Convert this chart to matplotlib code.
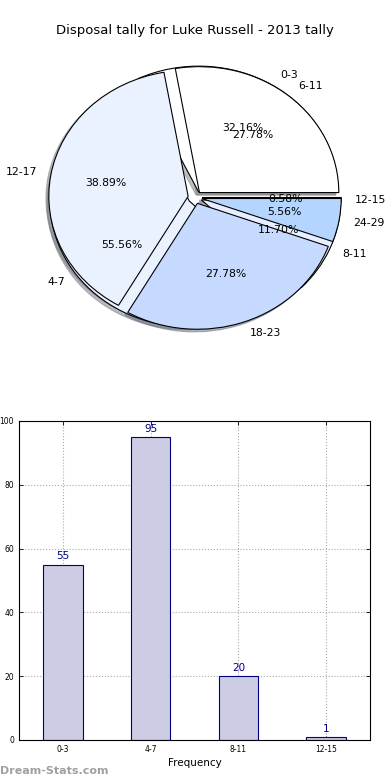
import matplotlib
matplotlib.use('Agg')
import matplotlib.pyplot as plt

# disposal buckets (first pie + bar chart)
disp_labels = ['0-3', '4-7', '8-11', '12-15']
disp_counts = [55, 95, 20, 1]

# second pie drawn over the first one
range_labels = ['6-11', '12-17', '18-23', '24-29']
range_counts = [5, 7, 5, 1]

pie1_colors = ['white', '#eaf1ff', '#e6eeff', '#b4d5ff']
pie2_colors = ['white', '#eaf1ff', '#c6d9ff', '#b4d5ff']

fig = plt.figure(figsize=(3.9, 7.8), dpi=100)

# --- pie ---
ax1 = fig.add_axes([0.032, 0.533, 0.936, 0.423])
wedge_kw = {'edgecolor': 'black', 'linewidth': 0.8}
for vals, labs, cols in [(disp_counts, disp_labels, pie1_colors),
                         (range_counts, range_labels, pie2_colors)]:
    ax1.pie(vals, labels=labs, colors=cols, explode=[0.05] * len(vals),
            autopct='%.2f%%', shadow={'ox': -0.015, 'oy': -0.015, 'shade': 0.5},
            startangle=0, labeldistance=1.1, pctdistance=0.6,
            wedgeprops=wedge_kw, textprops={'fontsize': 7.8})
ax1.set_aspect('auto')
lim = 1.31
ax1.set_xlim(-lim, lim)
ax1.set_ylim(-lim - 0.015, lim - 0.015)
fig.text(0.5, 0.961, 'Disposal tally for Luke Russell - 2013 tally',
         ha='center', va='center', fontsize=9.5)

# --- bars ---
ax2 = fig.add_axes([0.0487, 0.0513, 0.9, 0.409])
x = range(len(disp_labels))
bars = ax2.bar(x, disp_counts, width=0.45, color='#ccccE4',
               edgecolor='#000080', linewidth=0.8, zorder=2)
for b, v in zip(bars, disp_counts):
    ax2.text(b.get_x() + b.get_width() / 2, v + 1, str(v),
             ha='center', va='bottom', fontsize=7.5, color='#000080')
ax2.set_xlim(-0.5, 3.5)
ax2.set_ylim(0, 100)
ax2.set_xticks(list(x))
ax2.set_xticklabels(disp_labels)
ax2.set_yticks([0, 20, 40, 60, 80, 100])
ax2.tick_params(labelsize=5.5, direction='in', top=True, right=True,
                length=3, width=0.6)
ax2.grid(True, linestyle=':', color='#aaaaaa', linewidth=0.8, zorder=0)
ax2.set_axisbelow(True)
ax2.set_xlabel('Frequency', fontsize=7.5, labelpad=3)
for s in ax2.spines.values():
    s.set_linewidth(0.8)

fig.text(0.0, 0.012, 'Dream-Stats.com', ha='left', va='center',
         fontsize=8, color='#a0a0a0', fontweight='bold')

fig.savefig('out.png', dpi=100)
